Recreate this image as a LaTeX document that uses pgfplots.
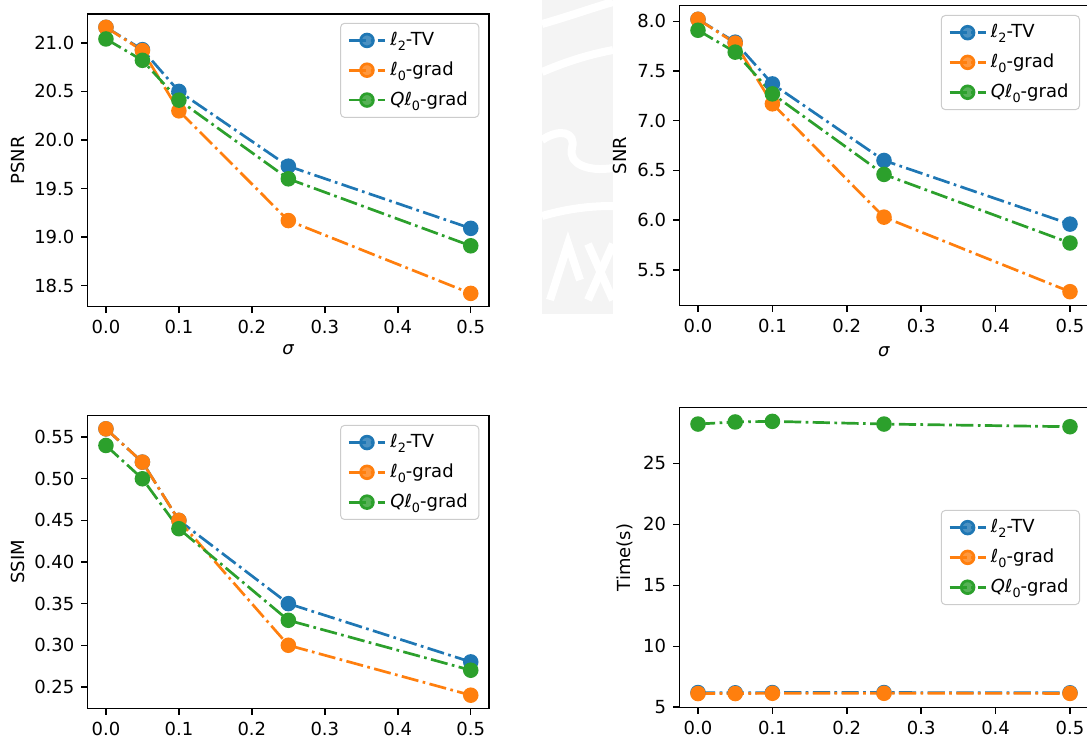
\documentclass[border=0pt]{standalone}
\usepackage{fontspec}
\setmainfont{DejaVu Sans}
\usepackage{pgfplots}
\pgfplotsset{compat=1.18}

\definecolor{tabblue}{HTML}{1F77B4}
\definecolor{taborange}{HTML}{FF7F0E}
\definecolor{tabgreen}{HTML}{2CA02C}
\definecolor{wmgray}{HTML}{F4F4F4}

% ell with a subscript, as in $\ell_2$
\newcommand{\ellsub}[1]{\textit{ℓ}\raisebox{-0.28em}{\fontsize{6.4}{6.4}\selectfont #1}}
\newcommand{\mfont}{\fontsize{9}{10.8}\selectfont}

\pgfplotsset{
  mpl/.style={
    scale only axis,
    anchor=north west,
    xmin=-0.025, xmax=0.525,
    xtick={0,0.1,0.2,0.3,0.4,0.5},
    xticklabel style={/pgf/number format/.cd, fixed, fixed zerofill, precision=1},
    tick align=outside,
    xtick pos=left, ytick pos=left,
    major tick length=3.15pt,
    every tick/.style={black, line width=0.72pt},
    axis line style={line width=0.72pt},
    /pgf/number format/assume math mode=true,
    tick label style={font=\mfont},
    label style={font=\mfont},
    legend cell align=left,
    legend style={font=\mfont, draw=black!20, line width=0.5pt, rounded corners=2pt,
      fill=white, fill opacity=0.8, text opacity=1,
      inner xsep=3.5pt, inner ysep=2.5pt, row sep=2.6pt,
      /tikz/every odd column/.append style={column sep=0pt}},
    legend image code/.code={
      \draw[mark repeat=2, mark phase=2, #1]
        plot coordinates {(0pt,0pt) (9pt,0pt) (18pt,0pt)};
    },
    every axis plot/.append style={
      line width=1.35pt,
      dash pattern=on 8.6pt off 2.2pt on 1.35pt off 2.2pt,
      mark=*, mark size=3.2pt,
    },
  },
  sA/.style={tabblue, mark options={solid, draw=none, fill=tabblue}},
  sB/.style={taborange, mark options={solid, draw=none, fill=taborange}},
  sC/.style={tabgreen, mark options={solid, draw=none, fill=tabgreen}},
}

\begin{document}
\begin{tikzpicture}
\path[use as bounding box, clip] (0pt,0pt) rectangle (543.5pt,-370pt);

% faint seal in the background
\fill[wmgray] (271pt,0pt) rectangle (306.5pt,-157pt);
\begin{scope}[white, line width=4pt]
  \draw (271pt,-12pt) .. controls (285pt,-8pt) and (296pt,-4pt) .. (306.5pt,-1pt);
  \draw (271pt,-36pt) .. controls (285pt,-30pt) and (296pt,-27pt) .. (306.5pt,-25pt);
  \draw (271pt,-70pt) .. controls (280pt,-64pt) and (288pt,-66pt) .. (286pt,-74pt)
        .. controls (284pt,-82pt) and (294pt,-86pt) .. (306.5pt,-84pt);
  \draw (271pt,-108pt) .. controls (285pt,-104pt) and (296pt,-103pt) .. (306.5pt,-103pt);
  \draw (275pt,-150pt) -- (284pt,-122pt) -- (290pt,-140pt);
  \draw (294pt,-122pt) -- (306.5pt,-150pt);
  \draw (306.5pt,-122pt) -- (294pt,-150pt);
\end{scope}

% ---------------- PSNR ----------------
\begin{axis}[mpl,
  at={(43.85pt,-7pt)}, width=200.65pt, height=146.35pt,
  ymin=18.283, ymax=21.297,
  ytick={18.5,19,19.5,20,20.5,21},
  yticklabel style={/pgf/number format/.cd, fixed, fixed zerofill, precision=1},
  xlabel={\textit{σ}}, ylabel={PSNR},
  xlabel style={at={(axis description cs:0.5,-0.148)}, anchor=center},
  ylabel style={at={(axis description cs:-0.173,0.5)}, anchor=center},
  legend style={at={(axis description cs:0.976,0.970)}, anchor=north east},
]
\addplot[sA] coordinates {(0,21.16) (0.05,20.93) (0.1,20.50) (0.25,19.73) (0.5,19.09)};
\addlegendentry{\ellsub{2}-TV}
\addplot[sB] coordinates {(0,21.16) (0.05,20.92) (0.1,20.30) (0.25,19.17) (0.5,18.42)};
\addlegendentry{\ellsub{0}-grad}
\addplot[sC] coordinates {(0,21.04) (0.05,20.82) (0.1,20.41) (0.25,19.60) (0.5,18.91)};
\addlegendentry{\textit{Q}\ellsub{0}-grad}
\end{axis}

% ---------------- SNR ----------------
\begin{axis}[mpl,
  at={(339.7pt,-2.85pt)}, width=204.6pt, height=149.8pt,
  ymin=5.143, ymax=8.157,
  ytick={5.5,6,6.5,7,7.5,8},
  yticklabel style={/pgf/number format/.cd, fixed, fixed zerofill, precision=1},
  xlabel={\textit{σ}}, ylabel={SNR},
  xlabel style={at={(axis description cs:0.5,-0.155)}, anchor=center},
  ylabel style={at={(axis description cs:-0.145,0.5)}, anchor=center},
  legend style={at={(axis description cs:0.979,0.969)}, anchor=north east},
]
\addplot[sA] coordinates {(0,8.02) (0.05,7.79) (0.1,7.37) (0.25,6.60) (0.5,5.96)};
\addlegendentry{\ellsub{2}-TV}
\addplot[sB] coordinates {(0,8.02) (0.05,7.78) (0.1,7.17) (0.25,6.03) (0.5,5.28)};
\addlegendentry{\ellsub{0}-grad}
\addplot[sC] coordinates {(0,7.91) (0.05,7.69) (0.1,7.27) (0.25,6.46) (0.5,5.77)};
\addlegendentry{\textit{Q}\ellsub{0}-grad}
\end{axis}

% ---------------- SSIM ----------------
\begin{axis}[mpl,
  at={(43.85pt,-207.75pt)}, width=200.65pt, height=146.5pt,
  ymin=0.224, ymax=0.576,
  ytick={0.25,0.3,0.35,0.4,0.45,0.5,0.55},
  yticklabel style={/pgf/number format/.cd, fixed, fixed zerofill, precision=2},
  ylabel={SSIM},
  ylabel style={at={(axis description cs:-0.173,0.5)}, anchor=center},
  legend style={at={(axis description cs:0.976,0.968)}, anchor=north east},
]
\addplot[sA] coordinates {(0,0.56) (0.05,0.52) (0.1,0.45) (0.25,0.35) (0.5,0.28)};
\addlegendentry{\ellsub{2}-TV}
\addplot[sB] coordinates {(0,0.56) (0.05,0.52) (0.1,0.45) (0.25,0.30) (0.5,0.24)};
\addlegendentry{\ellsub{0}-grad}
\addplot[sC] coordinates {(0,0.54) (0.05,0.50) (0.1,0.44) (0.25,0.33) (0.5,0.27)};
\addlegendentry{\textit{Q}\ellsub{0}-grad}
\end{axis}

% ---------------- Time ----------------
\begin{axis}[mpl,
  at={(339.7pt,-203.85pt)}, width=204.6pt, height=149.8pt,
  ymin=4.99, ymax=29.57,
  ytick={5,10,15,20,25},
  yticklabel style={/pgf/number format/.cd, fixed, precision=0},
  ylabel={Time(s)},
  ylabel style={at={(axis description cs:-0.133,0.5)}, anchor=center},
  legend style={at={(axis description cs:0.979,0.5)}, anchor=east},
]
\addplot[sA] coordinates {(0,6.20) (0.05,6.18) (0.1,6.20) (0.25,6.20) (0.5,6.18)};
\addlegendentry{\ellsub{2}-TV}
\addplot[sB] coordinates {(0,6.12) (0.05,6.12) (0.1,6.14) (0.25,6.14) (0.5,6.13)};
\addlegendentry{\ellsub{0}-grad}
\addplot[sC] coordinates {(0,28.23) (0.05,28.40) (0.1,28.45) (0.25,28.23) (0.5,28.01)};
\addlegendentry{\textit{Q}\ellsub{0}-grad}
\end{axis}
\end{tikzpicture}
\end{document}
